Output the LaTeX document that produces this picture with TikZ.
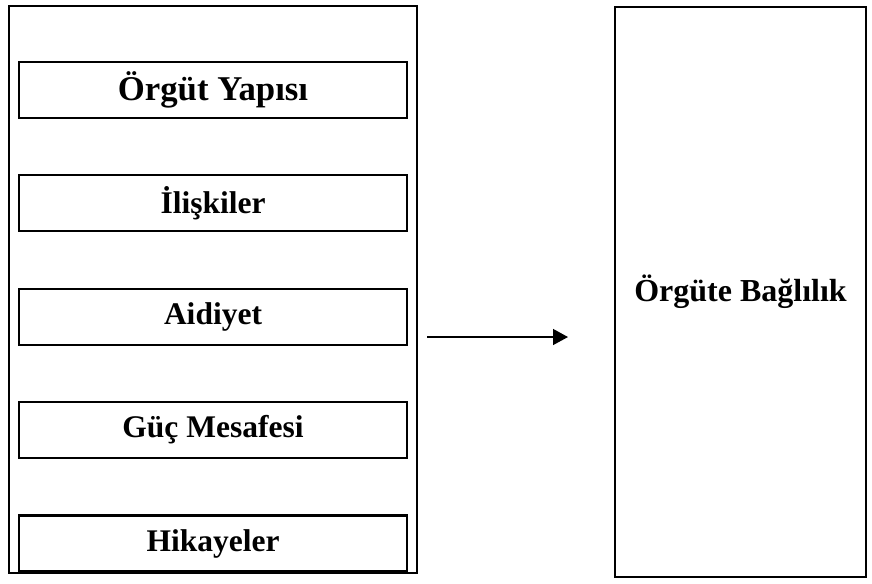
\documentclass[tikz,border=0pt]{standalone}
\usepackage{fontspec}
\setmainfont{Liberation Serif}
\usetikzlibrary{arrows.meta,positioning}

\begin{document}
\begin{tikzpicture}[
    x=0.4pt, y=-0.4pt,
    node distance=22.1pt,
    frame/.style={rectangle, draw=black, line width=0.85pt, inner sep=0pt},
    factor/.style={frame, minimum width=155.2pt, minimum height=22.4pt, font=\fontsize{12.6}{15}\selectfont\bfseries},
    outcome/.style={rectangle, draw=black, line width=0.6pt, inner sep=0pt, minimum width=100.4pt, minimum height=228pt, font=\fontsize{12.8}{15}\selectfont\bfseries},
    arrow/.style={-{Triangle[length=6pt, width=6.4pt]}, line width=0.55pt}
  ]
    \useasboundingbox (0,0) rectangle (872,583);
    % left column of factors
    \node[frame, minimum width=163.2pt, minimum height=226.8pt] (group) at (213,289.5) {};
    \node[factor, font=\fontsize{13.9}{15}\selectfont\bfseries] (yapi) at (213,90) {Örgüt Yapısı};
    \node[factor, below=of yapi] (iliski) {İlişkiler};
    \node[factor, below=of iliski] (aidiyet) {Aidiyet};
    \node[factor, below=of aidiyet] (guc) {Güç Mesafesi};
    \node[factor, below=of guc] (hikaye) {Hikayeler};
    % outcome
    \node[outcome] (baglilik) at (740.5,292) {Örgüte Bağlılık};
    \coordinate (from) at (427,337);
    \coordinate (to) at (568,337);
    \draw[arrow] (from) -- (to);
  \end{tikzpicture}
\end{document}
